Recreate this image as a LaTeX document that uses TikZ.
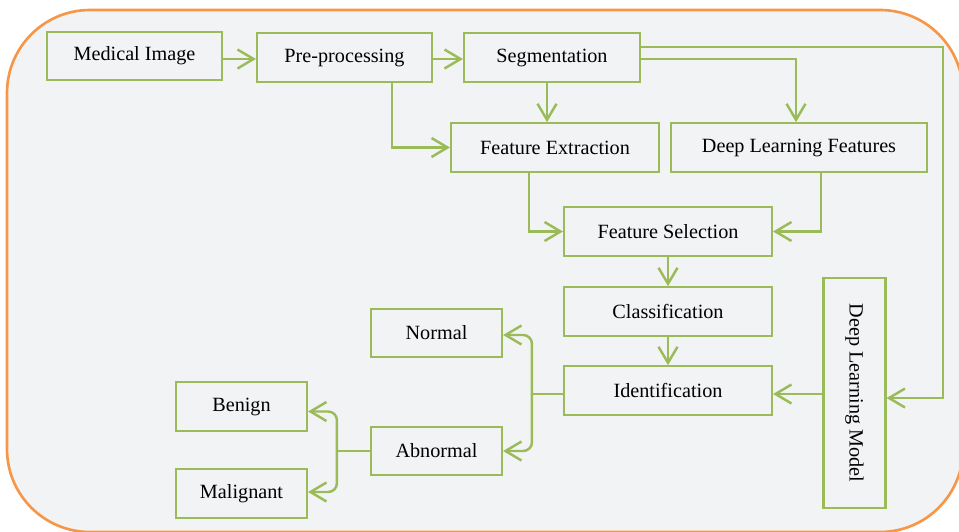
\documentclass[tikz,border=0pt]{standalone}
\usepackage{fontspec}
\setmainfont{Liberation Serif}
\usepackage{tikz}
\usetikzlibrary{arrows.meta,positioning}
\definecolor{boxline}{HTML}{9BBB59}
\definecolor{outline}{HTML}{F79646}
\definecolor{panel}{HTML}{F2F3F5}
\tikzset{
  box/.style={draw=boxline,line width=1.2pt,minimum height=0.97cm,inner sep=2pt,font=\fontsize{11.5}{13}\selectfont},
  link/.style={draw=boxline,line width=1.4pt},
  arr/.style={link,-{Straight Barb[length=3.2mm,width=3.8mm]}}
}

\begin{document}
\begin{tikzpicture}
\useasboundingbox (0,0) rectangle (19.18,-10.62);
\clip (0,0) rectangle (19.18,-10.62);
\draw[outline,fill=panel,line width=1.5pt,rounded corners=1.66cm] (0.14,-0.2) rectangle (19.26,-10.64);
\node[box,minimum width=3.5cm] (med) at (2.69,-1.12) {Medical Image};
\node[box,minimum width=3.5cm] (pre) at (6.89,-1.15) {Pre-processing};
\node[box,minimum width=3.52cm] (seg) at (11.04,-1.15) {Segmentation};
\node[box,minimum width=4.16cm] (fext) at (11.10,-2.95) {Feature Extraction};
\node[box,minimum width=5.12cm] (dlf) at (15.98,-2.95) {Deep Learning Features};
\node[box,minimum width=4.16cm] (fsel) at (13.36,-4.63) {Feature Selection};
\node[box,minimum width=4.16cm] (cls) at (13.36,-6.23) {Classification};
\node[box,minimum width=4.16cm] (idf) at (13.36,-7.81) {Identification};
\node[box,minimum width=1.24cm,minimum height=4.6cm] (dlm) at (17.09,-7.86) {\rotatebox{-90}{Deep Learning Model}};
\node[box,minimum width=2.62cm] (nor) at (8.73,-6.66) {Normal};
\node[box,minimum width=2.62cm] (abn) at (8.73,-9.02) {Abnormal};
\node[box,minimum width=2.62cm] (ben) at (4.83,-8.13) {Benign};
\node[box,minimum width=2.62cm] (mal) at (4.83,-9.87) {Malignant};

\draw[arr] ([yshift=-0.06cm]med.east) -- ([yshift=-0.06cm]med.east -| pre.west);
\draw[arr] ([yshift=-0.03cm]pre.east) -- ([yshift=-0.03cm]pre.east -| seg.west);
\draw[arr] ([xshift=-0.82cm]pre.south east) |- (fext.west);
\draw[arr] ([xshift=-0.1cm]seg.south) -- ([xshift=-0.1cm]seg.south |- fext.north);
\draw[arr] ([yshift=-0.03cm]seg.east) -| ([xshift=-0.06cm]dlf.north);
\draw[arr] ([yshift=0.21cm]seg.east) -| ([xshift=1.13cm,yshift=-0.1cm]dlm.east) -- ([yshift=-0.1cm]dlm.east);
\draw[arr] ([xshift=-0.52cm]fext.south) |- (fsel.west);
\draw[arr] ([xshift=0.44cm]dlf.south) |- (fsel.east);
\draw[arr] (fsel) -- (cls);
\draw[arr] (cls) -- (idf);
\draw[arr] ([yshift=-0.07cm]idf.east -| dlm.west) -- ([yshift=-0.07cm]idf.east);
\draw[link] ([yshift=-0.07cm]idf.west) -- ++(-0.62,0) coordinate (j1);
\draw[arr,rounded corners=5pt] (j1) |- ([yshift=-0.04cm]nor.east);
\draw[arr,rounded corners=5pt] (j1) |- (abn.east);
\draw[link] (abn.west) -- ++(-0.66,0) coordinate (j2);
\draw[arr,rounded corners=5pt] (j2) |- ([yshift=-0.1cm]ben.east);
\draw[arr,rounded corners=5pt] (j2) |- ([yshift=0.03cm]mal.east);
\end{tikzpicture}
\end{document}
